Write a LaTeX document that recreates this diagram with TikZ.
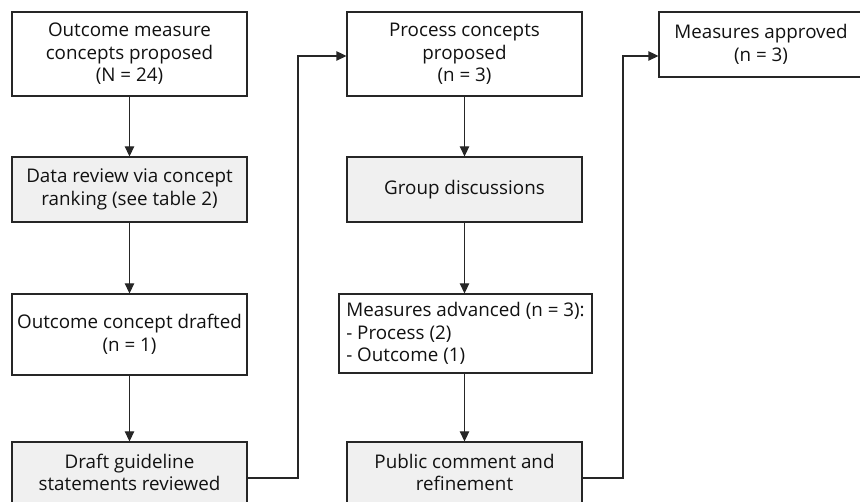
\documentclass[tikz,border=0pt]{standalone}
\usepackage{fontspec}
\setmainfont{Open Sans}
\usetikzlibrary{arrows.meta}
\definecolor{boxgray}{HTML}{F0F0F0}
\definecolor{linec}{HTML}{262626}
\definecolor{textc}{HTML}{111111}
\tikzset{
  flowbox/.style={draw=linec, line width=1.3pt, rectangle, inner sep=0pt, align=center,
    text=textc, font=\fontsize{18.8}{22.6}\selectfont},
  grayfill/.style={fill=boxgray},
  arr/.style={draw=linec, line width=1.3pt, -{Triangle[length=10pt,width=9.5pt]}}
}
\begin{document}
\begin{tikzpicture}[x=1pt,y=-1pt]
\useasboundingbox (0,0) rectangle (860,502);
\begin{scope}
\clip (0,0) rectangle (860,502);
% left column
\node[flowbox, minimum width=235pt, minimum height=84pt] (b1) at (129.5,54)
  {Outcome measure\\concepts proposed\\(N = 24)};
\node[flowbox, grayfill, minimum width=235pt, minimum height=65pt] (b2) at (129.5,189.5)
  {Data review via concept\\ranking (see table 2)};
\node[flowbox, minimum width=235pt, minimum height=81pt] (b3) at (129.5,334.5)
  {Outcome concept drafted\\(n = 1)};
\node[flowbox, grayfill, minimum width=235pt, minimum height=61pt] (b4) at (129.5,472.5)
  {Draft guideline\\statements reviewed};
% middle column
\node[flowbox, minimum width=235pt, minimum height=84pt] (b5) at (464.5,54)
  {Process concepts\\proposed\\(n = 3)};
\node[flowbox, grayfill, minimum width=235pt, minimum height=65pt] (b6) at (464.5,189.5)
  {Group discussions};
\node[flowbox, align=left, minimum width=253pt, minimum height=79pt] (b7) at (465.5,333.5)
  {Measures advanced (n = 3):\\- Process (2)\\- Outcome (1)};
\node[flowbox, grayfill, minimum width=235pt, minimum height=61pt] (b8) at (464.5,472.5)
  {Public comment and\\refinement};
% right column
\node[flowbox, minimum width=204pt, minimum height=65pt] (b9) at (761,44.5)
  {Measures approved\\(n = 3)};
% vertical arrows
\draw[arr] (b1) -- (b2);
\draw[arr] (b2) -- (b3);
\draw[arr] (b3) -- (b4);
\draw[arr] (b5) -- (b6);
\draw[arr] (b6.south) -- (b6.south |- b7.north);
\draw[arr] (b7.south -| b8.north) -- (b8.north);
% elbow connectors
\coordinate (c1) at (298,56);
\coordinate (c2) at (623,56);
\draw[arr] ([yshift=-5.5pt]b4.east) -| (c1) -- (c1 -| b5.west);
\draw[arr] ([yshift=-5.5pt]b8.east) -| (c2) -- (c2 -| b9.west);
\end{scope}
\end{tikzpicture}
\end{document}
